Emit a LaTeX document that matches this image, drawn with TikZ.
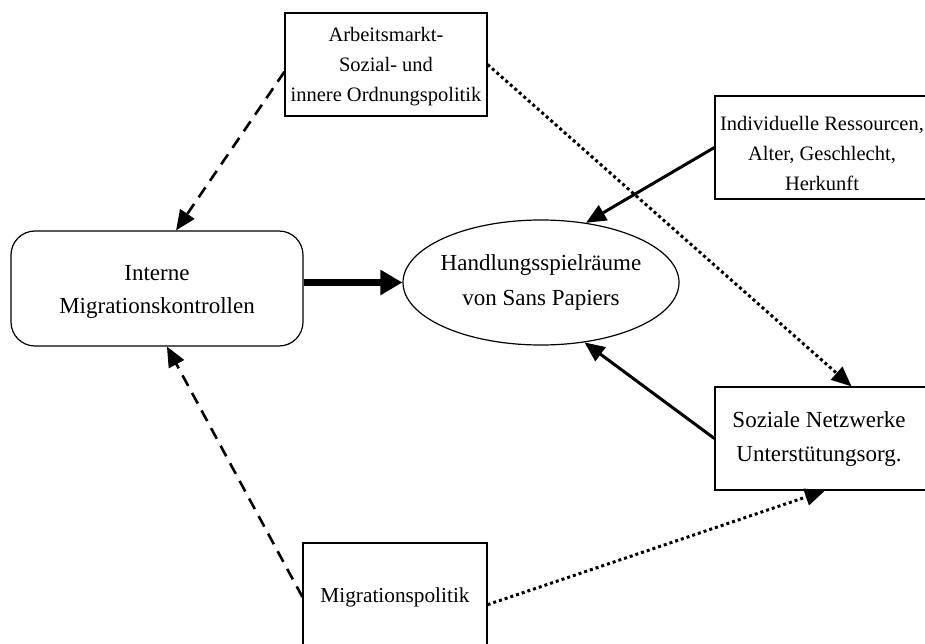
\documentclass[tikz,border=0pt]{standalone}
\usepackage{fontspec}
\setmainfont{Liberation Serif}
\usetikzlibrary{arrows.meta,shapes.geometric,calc}
\begin{document}
\begin{tikzpicture}[x=1pt,y=-1pt,
  txt/.style={align=center,font=\fontsize{21.5}{31}\selectfont,inner sep=0pt},
  box/.style={txt,draw,line width=1.2pt},
  dashedarrow/.style={line width=2.6pt,dash pattern=on 12pt off 8pt,-{Triangle[length=20pt,width=17pt]}},
  dottedarrow/.style={line width=3pt,dash pattern=on 3pt off 3pt,-{Triangle[length=20pt,width=17pt]}},
  solidarrow/.style={line width=3pt,-{Triangle[length=20pt,width=17pt]}},
  thickarrow/.style={line width=6.5pt,-{Triangle[length=22pt,width=24pt]}}
]
\useasboundingbox (0,0) rectangle (925,644);
\node[box,minimum width=202pt,minimum height=103pt,font=\fontsize{20.5}{30}\selectfont] (top) at (386,64.5) {\rule{0pt}{19pt}Arbeitsmarkt-\\Sozial- und\\innere Ordnungspolitik};
\node[box,minimum width=220pt,minimum height=103pt,font=\fontsize{20.5}{30}\selectfont] (indiv) at (825,147.5) {\rule{0pt}{27pt}\hspace*{-6pt}Individuelle Ressourcen,\\\hspace*{-6pt}Alter, Geschlecht,\\\hspace*{-6pt}Herkunft};
\node[box,rounded corners=24pt,minimum width=292pt,minimum height=115pt,font=\fontsize{23}{33}\selectfont] (left) at (157,288.5) {\rule{0pt}{22pt}Interne\\Migrationskontrollen};
\node[box,ellipse,inner sep=0pt,minimum width=276pt,minimum height=125pt,font=\fontsize{23}{35}\selectfont] (ell) at (541,282.5) {\makebox[0pt]{Handlungsspielräume}\\\makebox[0pt]{von Sans Papiers}};
\node[box,minimum width=220pt,minimum height=103pt,font=\fontsize{23}{34}\selectfont] (soz) at (825,438.5) {\hspace*{-12pt}Soziale Netzwerke\\\hspace*{-12pt}Unterstütungsorg.};
\node[box,minimum width=184pt,minimum height=108pt,font=\fontsize{21.3}{31}\selectfont] (mig) at (395,597) {Migrationspolitik};

\draw[dashedarrow] ($(top.north west)!0.57!(top.south west)$) -- ($(left.north west)!0.565!(left.north east)$);
\draw[dottedarrow] (top.east) -- ($(soz.north west)!0.62!(soz.north east)$);
\draw[solidarrow] (indiv.west) -- (ell.53);
\draw[solidarrow] (soz.west) -- (ell.-54);
\draw[thickarrow] (left.east |- ell.west) -- (ell.west);
\draw[dashedarrow] (mig.west) -- ($(left.south west)!0.534!(left.south east)$);
\draw[dottedarrow] ($(mig.north east)!0.57!(mig.south east)$) -- (soz.south);
\end{tikzpicture}
\end{document}
